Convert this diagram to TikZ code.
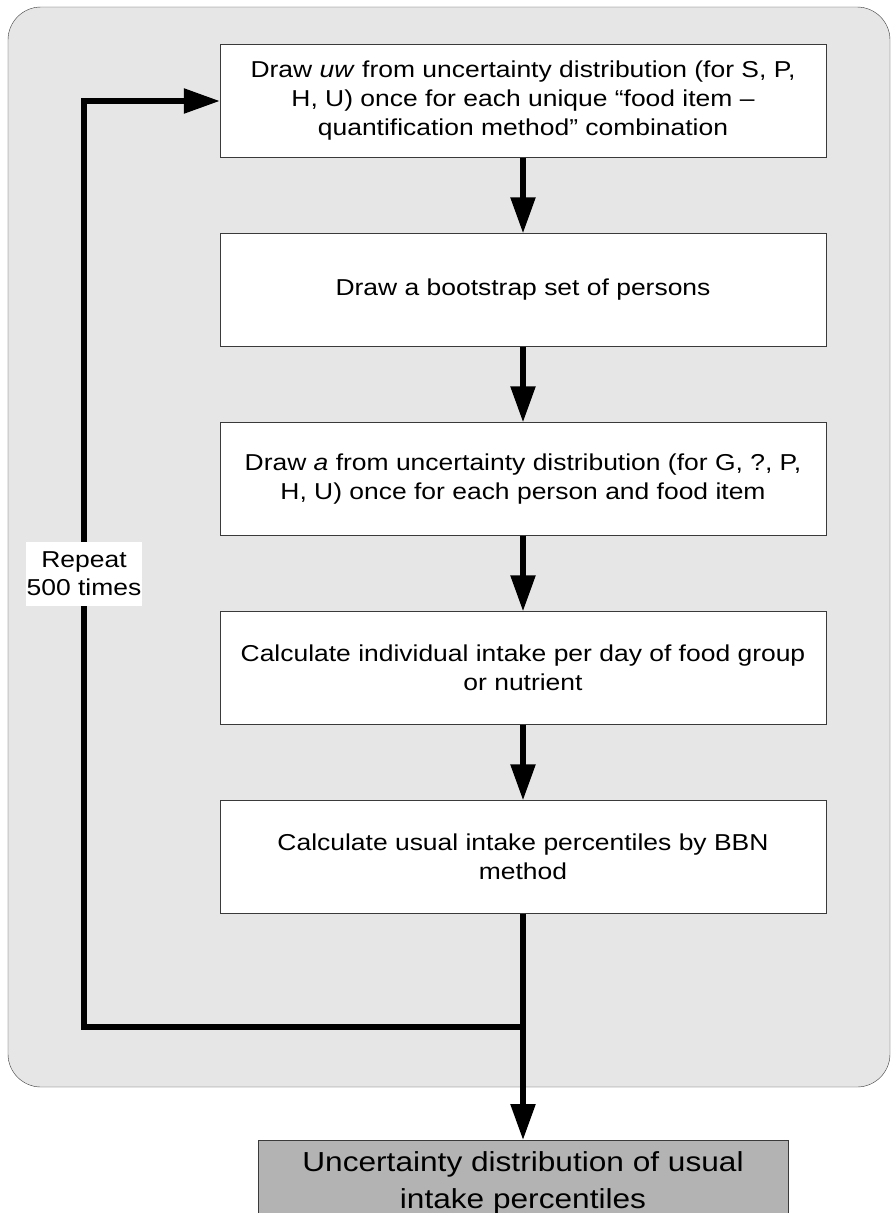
\documentclass[tikz,border=0pt]{standalone}
\usepackage{fontspec}
\setmainfont[FakeStretch=1.15]{Liberation Sans}
\usetikzlibrary{arrows.meta}
\definecolor{panelgray}{HTML}{E6E6E6}
\definecolor{resultgray}{HTML}{B3B3B3}
\definecolor{edgegray}{HTML}{3A3A3A}
\begin{document}
\begin{tikzpicture}[x=1pt,y=-1pt,
    flow/.style={line width=5.5pt,-{Triangle[length=36pt,width=24pt]}}]
    \clip (0,0) rectangle (891,1213);
    \draw[fill=panelgray,draw=edgegray,rounded corners=33pt] (8,7) rectangle (890,1087);
    \begin{scope}[every node/.style={draw=edgegray,fill=white,minimum width=606pt,minimum height=113pt,
        inner sep=0pt,align=center,font=\fontsize{23}{29}\selectfont}]
        \node (b1) at (523,101) {Draw \textit{uw} from uncertainty distribution (for S, P,\\H, U) once for each unique “food item –\\quantification method” combination};
        \node (b2) at (523,290) {Draw a bootstrap set of persons};
        \node (b3) at (523,479) {Draw \textit{a} from uncertainty distribution (for G, ?, P,\\H, U) once for each person and food item};
        \node (b4) at (523,668) {Calculate individual intake per day of food group\\or nutrient};
        \node (b5) at (523,857) {Calculate usual intake percentiles by BBN\\method};
    \end{scope}
    \node[draw=edgegray,fill=resultgray,minimum width=530pt,inner xsep=0pt,inner ysep=11pt,anchor=north,align=center,
        font=\fontsize{27.5}{37}\selectfont] (res) at (523,1140) {Uncertainty distribution of usual\\intake percentiles};
    \coordinate (split) at (523,1027);
    \coordinate (back) at (84,1027);
    \draw[flow] (b1) -- (b2);
    \draw[flow] (b2) -- (b3);
    \draw[flow] (b3) -- (b4);
    \draw[flow] (b4) -- (b5);
    \draw[flow] (b5) -- (res);
    \draw[flow] (split) -- (back) |- (b1.west);
    \node[fill=white,inner xsep=1pt,inner ysep=0pt,minimum height=64pt,align=center,
        font=\fontsize{23}{28}\selectfont] (rep) at (84,574) {Repeat\\500 times};
\end{tikzpicture}
\end{document}
